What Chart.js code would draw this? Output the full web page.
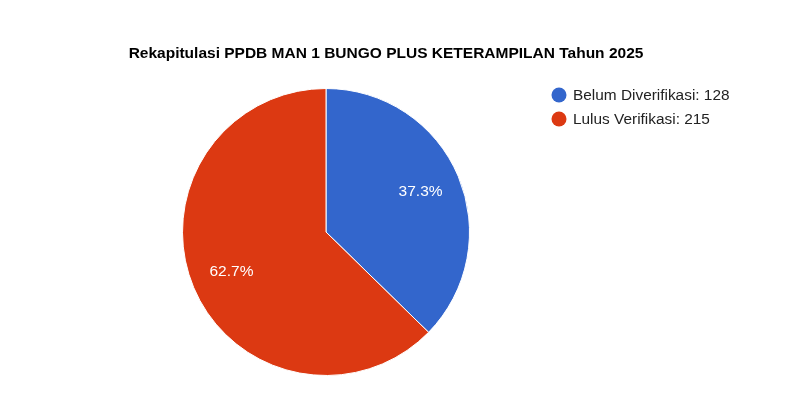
<!DOCTYPE html>
<html><head><meta charset="utf-8">
<script src="https://cdn.jsdelivr.net/npm/chart.js@4.4.0/dist/chart.umd.min.js"></script>
<style>html,body{margin:0;padding:0;background:#fff}#wrap{width:789px;height:414px}</style>
</head><body><div id="wrap"><canvas id="c" width="789" height="414"></canvas></div>
<script>
const titleText = "Rekapitulasi PPDB MAN 1 BUNGO PLUS KETERAMPILAN Tahun 2025";
const categories = ["Belum Diverifikasi", "Lulus Verifikasi"];
const values = [128, 215];
const colors = ["#3366cc", "#dc3912"];
const FONT = "Arial, 'Liberation Sans', sans-serif";

const overlay = {
  id: 'overlay',
  afterDraw(chart) {
    const ctx = chart.ctx;
    ctx.save();
    // title
    ctx.fillStyle = '#000';
    ctx.font = 'bold 15.5px ' + FONT;
    ctx.textAlign = 'center';
    ctx.textBaseline = 'alphabetic';
    ctx.fillText(titleText, 386, 58);
    // percentage labels
    const meta = chart.getDatasetMeta(0);
    const total = values.reduce((a, b) => a + b, 0);
    ctx.font = '15.5px ' + FONT;
    ctx.fillStyle = '#fff';
    ctx.textBaseline = 'middle';
    meta.data.forEach((arc, i) => {
      const mid = (arc.startAngle + arc.endAngle) / 2;
      const r = arc.outerRadius * 0.715;
      const x = arc.x + Math.cos(mid) * r;
      const y = arc.y + Math.sin(mid) * r;
      ctx.fillText((values[i] / total * 100).toFixed(1) + '%', x, y);
    });
    // legend
    ctx.textAlign = 'left';
    categories.forEach((c, i) => {
      const y = 95 + i * 24;
      ctx.beginPath();
      ctx.fillStyle = colors[i];
      ctx.arc(559, y, 7.5, 0, Math.PI * 2);
      ctx.fill();
      ctx.fillStyle = '#222';
      ctx.font = '15.4px ' + FONT;
      ctx.fillText(c + ': ' + values[i], 573, y + 1);
    });
    ctx.restore();
  }
};

new Chart(document.getElementById('c'), {
  type: 'pie',
  data: {
    labels: categories,
    datasets: [{ data: values, backgroundColor: colors, borderColor: '#fff', borderWidth: 1, hoverOffset: 0 }]
  },
  options: {
    responsive: false,
    animation: false,
    layout: { padding: { left: 182, right: 319, top: 88, bottom: 38 } },
    plugins: { legend: { display: false }, title: { display: false }, tooltip: { enabled: false } }
  },
  plugins: [overlay]
});
</script></body></html>
